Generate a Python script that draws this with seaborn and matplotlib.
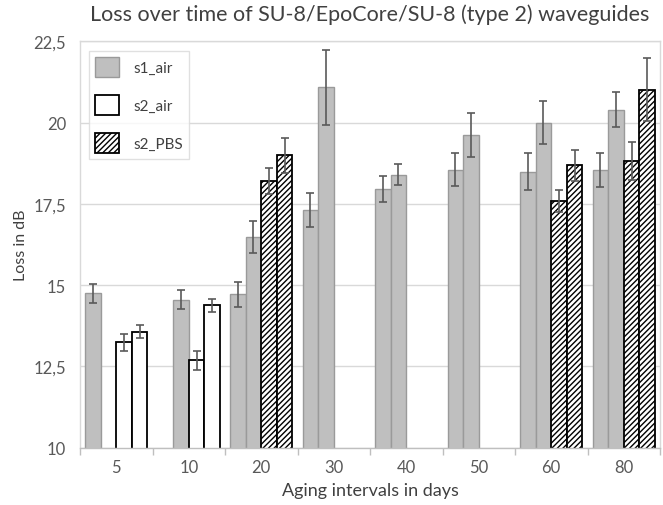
import matplotlib
matplotlib.use("Agg")
import matplotlib.pyplot as plt
import seaborn as sns
import pandas as pd
import numpy as np
from matplotlib.patches import Patch
from matplotlib.ticker import FixedLocator

# ---- data ----
days = ["5", "10", "20", "30", "40", "50", "60", "80"]
slots = [0, 1, 2, 3]
series_names = ["s1_air", "s2_air", "s2_PBS"]

bar_day = ["5", "5", "5",
           "10", "10", "10",
           "20", "20", "20", "20",
           "30", "30",
           "40", "40",
           "50", "50",
           "60", "60", "60", "60",
           "80", "80", "80", "80"]
bar_slot = [0, 2, 3,
            1, 2, 3,
            0, 1, 2, 3,
            0, 1,
            0, 1,
            0, 1,
            0, 1, 2, 3,
            0, 1, 2, 3]
bar_series = ["s1_air", "s2_air", "s2_air",
              "s1_air", "s2_air", "s2_air",
              "s1_air", "s1_air", "s2_PBS", "s2_PBS",
              "s1_air", "s1_air",
              "s1_air", "s1_air",
              "s1_air", "s1_air",
              "s1_air", "s1_air", "s2_PBS", "s2_PBS",
              "s1_air", "s1_air", "s2_PBS", "s2_PBS"]
loss = [14.75, 13.24, 13.56,
        14.55, 12.69, 14.38,
        14.72, 16.48, 18.20, 19.00,
        17.31, 21.08,
        17.96, 18.40,
        18.55, 19.62,
        18.49, 20.00, 17.59, 18.68,
        18.54, 20.40, 18.81, 21.01]
loss_err = [0.29, 0.27, 0.20,
            0.30, 0.29, 0.20,
            0.38, 0.48, 0.40, 0.54,
            0.53, 1.14,
            0.40, 0.31,
            0.50, 0.67,
            0.57, 0.66, 0.33, 0.48,
            0.51, 0.53, 0.59, 0.97]

yticks = [10, 12.5, 15, 17.5, 20, 22.5]
ytick_labels = ["10", "12,5", "15", "17,5", "20", "22,5"]

df = pd.DataFrame({"day": bar_day, "slot": bar_slot, "series": bar_series,
                   "loss": loss, "err": loss_err})

# ---- style ----
sns.set_theme(style="white")
plt.rcParams["font.family"] = ["Lato", "DejaVu Sans"]
plt.rcParams["hatch.linewidth"] = 1.0
plt.rcParams["hatch.color"] = "black"

styles = {
    "s1_air": dict(facecolor="#BFBFBF", edgecolor="#9A9A9A", hatch=None, lw=1.0),
    "s2_air": dict(facecolor="white", edgecolor="black", hatch=None, lw=1.3),
    "s2_PBS": dict(facecolor="white", edgecolor="black", hatch="//////", lw=1.3),
}

fig = plt.figure(figsize=(6.63, 5.06), dpi=100)
ax = fig.add_axes([80 / 663, 57.4 / 506, 580 / 663, 406.3 / 506])

width = 0.86
sns.barplot(data=df, x="day", y="loss", hue="slot", order=days, hue_order=slots,
            dodge=True, width=width, errorbar=None, legend=False, ax=ax,
            palette=["#BFBFBF"] * 4, zorder=2)

lookup = {(d, s): i for i, (d, s) in enumerate(zip(bar_day, bar_slot))}
bw = width / len(slots)
for p in list(ax.patches):
    h = p.get_height()
    if not np.isfinite(h) or h == 0:
        continue
    cx = p.get_x() + p.get_width() / 2
    ci = int(round(cx))
    si = int(round((cx - ci + width / 2) / bw - 0.5))
    key = (days[ci], si)
    if key not in lookup:
        continue
    i = lookup[key]
    st = styles[bar_series[i]]
    p.set_facecolor(st["facecolor"])
    p.set_edgecolor(st["edgecolor"])
    p.set_linewidth(st["lw"])
    if st["hatch"]:
        p.set_hatch(st["hatch"])
    ax.errorbar(cx, loss[i], yerr=loss_err[i], fmt="none", ecolor="#5A5A5A",
                elinewidth=1.2, capsize=3.2, capthick=1.2, zorder=4)

ax.set_ylim(10, 22.5)
ax.set_xlim(-0.5, len(days) - 0.5)
ax.set_yticks(yticks)
ax.set_yticklabels(ytick_labels)
ax.yaxis.grid(True, color="#D9D9D9", lw=1.0, zorder=0)
ax.set_axisbelow(True)

ax.xaxis.set_minor_locator(FixedLocator(np.arange(-0.5, len(days), 1.0)))
ax.tick_params(axis="x", which="major", length=0, labelsize=12, colors="#595959", pad=8)
ax.tick_params(axis="x", which="minor", length=5, color="#BFBFBF", width=1, bottom=True)
ax.tick_params(axis="y", length=0, labelsize=12, colors="#595959", pad=10)

for sp in ["left", "top", "right"]:
    ax.spines[sp].set_color("#D9D9D9")
    ax.spines[sp].set_linewidth(1.0)
ax.spines["bottom"].set_color("#BFBFBF")
ax.spines["bottom"].set_linewidth(1.0)

ax.set_xlabel("Aging intervals in days", fontsize=13, color="#404040", labelpad=5)
ax.set_ylabel("Loss in dB", fontsize=11.5, color="#404040", labelpad=4)
ax.set_title("Loss over time of SU-8/EpoCore/SU-8 (type 2) waveguides",
             fontsize=15.5, color="#404040", pad=15)

handles = [Patch(facecolor=styles[s]["facecolor"], edgecolor=styles[s]["edgecolor"],
                 hatch=styles[s]["hatch"], linewidth=styles[s]["lw"], label=s)
           for s in series_names]
leg = ax.legend(handles=handles, loc="upper left", bbox_to_anchor=(0.015, 0.976),
                fontsize=11, frameon=True, fancybox=False, edgecolor="#D9D9D9",
                handlelength=1.6, handleheight=1.6, labelspacing=1.2,
                borderpad=0.4, handletextpad=0.9, borderaxespad=0)
leg.get_frame().set_linewidth(1.0)
for t in leg.get_texts():
    t.set_color("#404040")

fig.savefig("out.png", dpi=100)
